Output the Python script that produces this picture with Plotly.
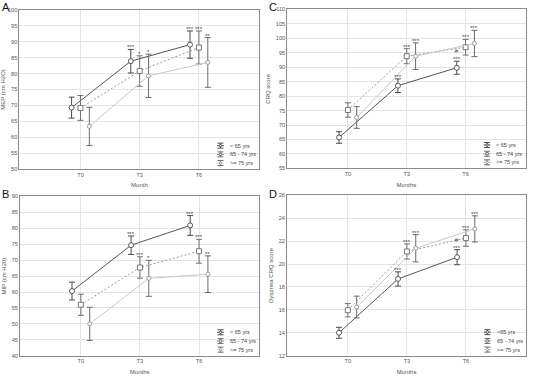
import plotly.graph_objects as go

months = ["T0", "T3", "T6"]
groups = ["< 65 yrs", "65 - 74 yrs", ">= 75 yrs"]
groups_d = ["<65 yrs", "65 - 74 yrs", ">= 75 yrs"]

# Panel A: MEP
a_lt65 = [69.3, 83.9, 89.1]
a_lt65_err = [3.3, 3.7, 4.3]
a_6574 = [69.2, 80.8, 88.2]
a_6574_err = [3.9, 4.8, 5.2]
a_ge75 = [63.4, 79.3, 83.5]
a_ge75_err = [6.0, 6.8, 7.8]
a_sig = [["", "***", "***"], ["", "*", "***"], ["", "*", "**"]]

# Panel B: MIP
b_lt65 = [60.3, 74.7, 80.9]
b_lt65_err = [2.8, 2.9, 3.1]
b_6574 = [56.0, 67.7, 72.8]
b_6574_err = [3.3, 3.35, 3.75]
b_ge75 = [50.0, 64.3, 65.6]
b_ge75_err = [5.2, 5.65, 5.75]
b_sig = [["", "***", "***"], ["", "***", "***"], ["", "*", "**"]]

# Panel C: CRQ score
c_lt65 = [65.7, 83.6, 89.8]
c_lt65_err = [2.0, 2.35, 2.25]
c_6574 = [75.2, 93.8, 96.9]
c_6574_err = [2.5, 2.6, 2.7]
c_ge75 = [72.6, 93.8, 98.2]
c_ge75_err = [3.75, 4.6, 4.55]
c_sig = [["", "***", "#<br>***"], ["", "***", "***"], ["", "***", "***"]]

# Panel D: Dyspnea CRQ score
d_lt65 = [14.0, 18.7, 20.6]
d_lt65_err = [0.48, 0.62, 0.66]
d_6574 = [15.97, 21.1, 22.27]
d_6574_err = [0.58, 0.66, 0.72]
d_ge75 = [16.25, 21.38, 23.07]
d_ge75_err = [0.95, 1.19, 1.14]
d_sig = [["", "***", "#<br>***"], ["", "***", "***"], ["", "***", "***"]]

panels = [
    dict(letter="A", ax="", vals=[a_lt65, a_6574, a_ge75], errs=[a_lt65_err, a_6574_err, a_ge75_err],
         sig=a_sig, ytitle="MEP (cm H2O)", xtitle="Month", yrange=[50, 100], dtick=5,
         xdom=[0.0362, 0.482], ydom=[0.5564, 0.9738], leg=groups, lx=0.0, ly=1.0),
    dict(letter="C", ax="2", vals=[c_lt65, c_6574, c_ge75], errs=[c_lt65_err, c_6574_err, c_ge75_err],
         sig=c_sig, ytitle="CRQ score", xtitle="Months", yrange=[55, 110], dtick=5,
         xdom=[0.534, 0.977], ydom=[0.5580, 0.9755], leg=groups, lx=0.496, ly=1.0),
    dict(letter="B", ax="3", vals=[b_lt65, b_6574, b_ge75], errs=[b_lt65_err, b_6574_err, b_ge75_err],
         sig=b_sig, ytitle="MIP (cm H20)", xtitle="Months", yrange=[40, 90], dtick=5,
         xdom=[0.0372, 0.482], ydom=[0.0664, 0.4843], leg=groups, lx=0.0, ly=0.508),
    dict(letter="D", ax="4", vals=[d_lt65, d_6574, d_ge75], errs=[d_lt65_err, d_6574_err, d_ge75_err],
         sig=d_sig, ytitle="Dyspnea CRQ score", xtitle="Months", yrange=[12, 26], dtick=2,
         xdom=[0.5335, 0.978], ydom=[0.0664, 0.4873], leg=groups_d, lx=0.496, ly=0.508),
]

offsets = [-0.15, 0.0, 0.15]
line_colors = ["#555555", "#9a9a9a", "#c8c8c8"]
line_dash = ["solid", "2px,2px", "solid"]
err_colors = ["#4a4a4a", "#707070", "#6a6a6a"]
mk_symbol = ["circle", "square", "circle"]
mk_size = [5, 5, 4]
mk_color = ["#555555", "#777777", "#9a9a9a"]

fig = go.Figure()
annotations = []
shapes = []
FONT = "Liberation Sans, Arial, sans-serif"

for p in panels:
    xa = "x" + p["ax"]
    ya = "y" + p["ax"]
    for g in range(3):
        xs = [i + offsets[g] for i in range(len(months))]
        fig.add_trace(go.Scatter(
            x=xs, y=p["vals"][g], xaxis=xa, yaxis=ya, mode="lines",
            line=dict(color=line_colors[g], width=1, dash=line_dash[g]),
            showlegend=False, hoverinfo="skip"))
        fig.add_trace(go.Scatter(
            x=xs, y=p["vals"][g], xaxis=xa, yaxis=ya, mode="markers",
            marker=dict(symbol=mk_symbol[g], size=mk_size[g], color="white",
                        line=dict(width=1, color=mk_color[g])),
            error_y=dict(type="data", array=p["errs"][g], visible=True, color=err_colors[g],
                         thickness=1, width=3),
            showlegend=False))
        for i in range(len(months)):
            txt = p["sig"][g][i]
            if txt:
                annotations.append(dict(
                    x=xs[i], y=p["vals"][g][i] + p["errs"][g][i], xref=xa, yref=ya,
                    text=txt, showarrow=False, yanchor="bottom", xanchor="center",
                    font=dict(size=6, color="#444", family=FONT), yshift=-3))
    # panel letter
    annotations.append(dict(
        x=p["lx"], y=p["ly"], xref="paper", yref="paper",
        text=p["letter"], showarrow=False, xanchor="left", yanchor="top",
        borderpad=0, xshift=1,
        font=dict(size=11, color="#111", family=FONT)))
    # legend (drawn inside plot area, bottom right)
    rows_y = [0.147, 0.092, 0.038]
    for g in range(3):
        common = dict(xref=xa + " domain", yref=ya + " domain", xsizemode="pixel", ysizemode="pixel",
                      xanchor=0.838, yanchor=rows_y[g], line=dict(color=err_colors[g], width=1))
        shapes.append(dict(type="line", x0=0, x1=0, y0=-2.5, y1=2.5, **common))
        shapes.append(dict(type="line", x0=-3, x1=3, y0=2.5, y1=2.5, **common))
        shapes.append(dict(type="line", x0=-3, x1=3, y0=-2.5, y1=-2.5, **common))
        shapes.append(dict(type="line", x0=-3.5, x1=3.5, y0=0, y1=0,
                           **{**common, "line": dict(color=line_colors[g], width=1)}))
        shapes.append(dict(type="circle" if g != 1 else "rect", x0=-1.2, x1=1.2, y0=-1.2, y1=1.2,
                           fillcolor="white", **{**common, "line": dict(color=mk_color[g], width=1)}))
        annotations.append(dict(
            x=0.868, y=rows_y[g], xref=xa + " domain", yref=ya + " domain",
            text=p["leg"][g], showarrow=False, xanchor="left", yanchor="middle",
            font=dict(size=5.5, color="#444", family=FONT)))

    axis_common = dict(showline=True, mirror=True, linecolor="#8a8a8a", linewidth=1,
                       gridcolor="#e4e4e4", gridwidth=1, zeroline=False, automargin=False,
                       ticks="", ticklabelstandoff=0,
                       tickfont=dict(size=5.6, color="#555", family=FONT))
    fig.layout["xaxis" + p["ax"]] = dict(
        domain=p["xdom"], anchor=ya, range=[-1.03, 3.02],
        tickvals=list(range(len(months))), ticktext=months,
        title=dict(text=p["xtitle"], font=dict(size=6, color="#555", family=FONT), standoff=6),
        **axis_common)
    fig.layout["yaxis" + p["ax"]] = dict(
        domain=p["ydom"], anchor=xa, range=p["yrange"], dtick=p["dtick"],
        title=dict(text=p["ytitle"], font=dict(size=6, color="#555", family=FONT), standoff=4),
        **axis_common)

fig.update_layout(
    width=538, height=381, margin=dict(l=0, r=0, t=0, b=0, autoexpand=False),
    paper_bgcolor="white", plot_bgcolor="white",
    annotations=annotations, shapes=shapes, showlegend=False,
    font=dict(family=FONT),
)

fig.write_html("out.html", config={"displayModeBar": False},
               post_script="document.body.style.margin='0px';")
